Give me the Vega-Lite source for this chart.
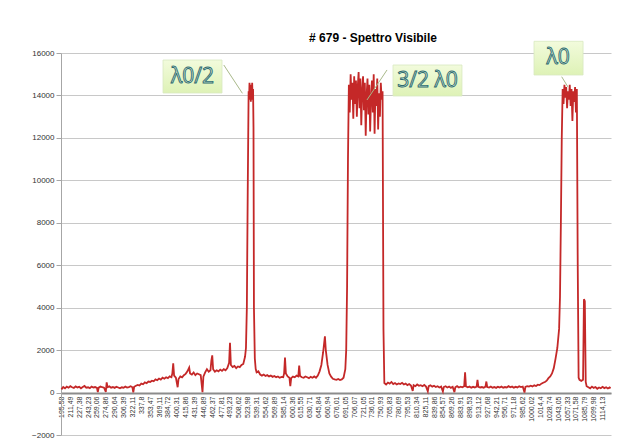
{
  "$schema": "https://vega.github.io/schema/vega-lite/v6.json",
  "width": 550,
  "height": 382,
  "autosize": {"type": "none"},
  "padding": {"left": 61, "top": 53, "right": 29, "bottom": 10},
  "background": "white",
  "config": {"view": {"stroke": null}},
  "title": {"text": "# 679 - Spettro Visibile", "fontSize": 12, "fontWeight": "bold", "font": "Liberation Sans", "color": "#000000", "anchor": "middle", "dx": 37, "dy": 4, "offset": 0},
  "datasets": {
    "spec": [
      {"i":0,"v":150},{"i":2,"v":260},{"i":4,"v":200},{"i":6,"v":280},{"i":8,"v":230},{"i":10,"v":300},{"i":12,"v":250},{"i":14,"v":220},{"i":16,"v":290},{"i":18,"v":240},
      {"i":20,"v":270},{"i":22,"v":200},{"i":24,"v":260},{"i":26,"v":310},{"i":28,"v":230},{"i":30,"v":250},{"i":32,"v":210},{"i":34,"v":280},{"i":36,"v":240},{"i":38,"v":260},
      {"i":40,"v":220},{"i":41,"v":20},{"i":42,"v":230},{"i":44,"v":280},{"i":46,"v":250},{"i":48,"v":230},{"i":50,"v":30},{"i":51,"v":480},{"i":52,"v":250},{"i":54,"v":290},
      {"i":56,"v":230},{"i":58,"v":260},{"i":60,"v":220},{"i":62,"v":270},{"i":64,"v":240},{"i":66,"v":200},{"i":68,"v":250},{"i":70,"v":230},{"i":72,"v":280},{"i":74,"v":240},
      {"i":76,"v":260},{"i":78,"v":300},{"i":80,"v":250},{"i":81,"v":10},{"i":82,"v":270},{"i":84,"v":320},
      {"i":86,"v":360},{"i":88,"v":330},{"i":90,"v":420},{"i":92,"v":390},{"i":94,"v":480},{"i":96,"v":440},{"i":98,"v":520},{"i":100,"v":500},{"i":102,"v":560},{"i":104,"v":530},
      {"i":106,"v":620},{"i":108,"v":580},{"i":110,"v":660},{"i":112,"v":610},{"i":114,"v":700},{"i":116,"v":650},{"i":118,"v":720},{"i":120,"v":680},{"i":122,"v":760},{"i":124,"v":720},
      {"i":125,"v":900},{"i":126,"v":1380},{"i":127,"v":800},{"i":129,"v":700},{"i":131,"v":250},{"i":132,"v":640},{"i":134,"v":760},{"i":136,"v":720},{"i":138,"v":820},{"i":140,"v":880},
      {"i":142,"v":1000},{"i":144,"v":1180},{"i":145,"v":900},{"i":147,"v":850},{"i":149,"v":950},{"i":151,"v":820},{"i":153,"v":900},{"i":155,"v":860},{"i":157,"v":820},{"i":159,"v":20},
      {"i":160,"v":750},{"i":162,"v":950},{"i":164,"v":1100},{"i":166,"v":980},{"i":168,"v":1050},{"i":169,"v":1500},{"i":170,"v":1750},{"i":171,"v":1100},{"i":173,"v":980},{"i":175,"v":1050},
      {"i":177,"v":1000},{"i":179,"v":1080},{"i":181,"v":1020},{"i":183,"v":1100},{"i":185,"v":1050},{"i":187,"v":1150},{"i":189,"v":1400},{"i":190,"v":2350},{"i":191,"v":1300},{"i":193,"v":1200},
      {"i":195,"v":1250},{"i":197,"v":1150},{"i":199,"v":1230},{"i":201,"v":1200},{"i":203,"v":1300},{"i":205,"v":1350},{"i":207,"v":1700},{"i":208,"v":2100},{"i":209,"v":4000},{"i":210,"v":9500},
      {"i":211,"v":14200},{"i":211.5,"v":13800},{"i":212,"v":14600},{"i":212.5,"v":13900},{"i":213,"v":14500},{"i":213.5,"v":13700},{"i":214,"v":14400},{"i":214.5,"v":13900},{"i":215,"v":14600},{"i":215.5,"v":13800},
      {"i":216,"v":14300},{"i":216.5,"v":12500},{"i":217,"v":4000},{"i":218,"v":1600},{"i":219,"v":1100},{"i":220,"v":950},{"i":222,"v":1000},{"i":224,"v":850},{"i":226,"v":800},{"i":228,"v":850},
      {"i":230,"v":780},{"i":232,"v":820},{"i":234,"v":760},{"i":236,"v":800},{"i":238,"v":740},{"i":240,"v":780},{"i":242,"v":720},{"i":244,"v":760},{"i":246,"v":700},{"i":248,"v":740},
      {"i":250,"v":720},{"i":251,"v":900},{"i":252,"v":1650},{"i":253,"v":900},{"i":255,"v":760},{"i":257,"v":700},{"i":258,"v":300},{"i":259,"v":680},{"i":261,"v":750},{"i":263,"v":720},
      {"i":265,"v":800},{"i":267,"v":760},{"i":268,"v":1270},{"i":269,"v":780},{"i":271,"v":720},{"i":273,"v":700},{"i":275,"v":760},{"i":277,"v":720},{"i":279,"v":680},{"i":281,"v":740},
      {"i":283,"v":700},{"i":285,"v":760},{"i":287,"v":700},{"i":289,"v":800},{"i":291,"v":1000},{"i":293,"v":1300},{"i":295,"v":1900},{"i":297,"v":2650},{"i":298,"v":2000},{"i":300,"v":1300},
      {"i":302,"v":900},{"i":304,"v":750},{"i":306,"v":650},{"i":308,"v":620},{"i":310,"v":600},{"i":312,"v":640},{"i":314,"v":590},{"i":316,"v":620},{"i":318,"v":700},{"i":320,"v":1100},
      {"i":321,"v":2000},{"i":322,"v":5000},{"i":323,"v":11000},
      {"i":324,"v":14500},{"i":325,"v":13200},{"i":326,"v":15000},{"i":327,"v":13800},{"i":328,"v":14600},{"i":329,"v":12900},{"i":330,"v":14900},{"i":331,"v":13600},{"i":332,"v":14700},{"i":333,"v":13000},
      {"i":334,"v":14400},{"i":335,"v":15100},{"i":336,"v":13400},{"i":337,"v":14800},{"i":338,"v":12600},{"i":339,"v":14200},{"i":340,"v":14900},{"i":341,"v":13300},{"i":342,"v":14600},{"i":343,"v":12100},
      {"i":344,"v":14000},{"i":345,"v":14800},{"i":346,"v":13100},{"i":347,"v":14500},{"i":348,"v":12300},{"i":349,"v":13900},{"i":350,"v":14700},{"i":351,"v":13200},{"i":352,"v":15000},{"i":353,"v":12200},
      {"i":354,"v":14300},{"i":355,"v":13500},{"i":356,"v":14800},{"i":357,"v":12400},{"i":358,"v":14100},{"i":359,"v":13000},{"i":360,"v":14600},{"i":361,"v":13800},{"i":362,"v":14200},{"i":363,"v":3000},
      {"i":364,"v":450},{"i":366,"v":380},{"i":368,"v":470},{"i":370,"v":420},{"i":372,"v":500},{"i":374,"v":400},{"i":376,"v":450},{"i":378,"v":380},{"i":380,"v":430},{"i":382,"v":400},
      {"i":384,"v":460},{"i":386,"v":380},{"i":388,"v":420},{"i":390,"v":350},{"i":392,"v":400},{"i":394,"v":330},{"i":396,"v":80},{"i":397,"v":350},{"i":399,"v":300},{"i":401,"v":380},
      {"i":403,"v":320},{"i":405,"v":350},{"i":407,"v":300},{"i":409,"v":360},{"i":411,"v":280},{"i":413,"v":60},{"i":414,"v":300},{"i":416,"v":340},{"i":418,"v":280},{"i":420,"v":320},
      {"i":422,"v":260},{"i":424,"v":300},{"i":426,"v":240},{"i":428,"v":280},{"i":430,"v":50},{"i":431,"v":260},{"i":433,"v":300},{"i":435,"v":240},{"i":437,"v":280},{"i":439,"v":220},
      {"i":441,"v":270},{"i":443,"v":20},{"i":444,"v":250},{"i":446,"v":300},{"i":448,"v":240},{"i":450,"v":280},{"i":452,"v":250},{"i":454,"v":300},{"i":455,"v":960},{"i":456,"v":290},
      {"i":458,"v":250},{"i":460,"v":280},{"i":462,"v":230},{"i":464,"v":270},{"i":466,"v":240},{"i":468,"v":280},{"i":469,"v":600},{"i":470,"v":270},{"i":472,"v":240},{"i":474,"v":260},
      {"i":476,"v":230},{"i":478,"v":280},{"i":479,"v":520},{"i":480,"v":260},{"i":482,"v":240},{"i":484,"v":280},{"i":486,"v":230},{"i":488,"v":260},{"i":490,"v":220},{"i":492,"v":270},
      {"i":494,"v":240},{"i":496,"v":280},{"i":498,"v":230},{"i":500,"v":260},{"i":502,"v":240},{"i":504,"v":300},{"i":506,"v":250},{"i":508,"v":280},{"i":510,"v":230},{"i":512,"v":270},
      {"i":514,"v":240},{"i":516,"v":300},{"i":518,"v":260},{"i":520,"v":280},{"i":522,"v":0},{"i":523,"v":270},{"i":525,"v":300},{"i":527,"v":280},{"i":529,"v":320},{"i":531,"v":290},
      {"i":533,"v":340},{"i":535,"v":310},{"i":537,"v":370},{"i":539,"v":350},{"i":541,"v":420},{"i":543,"v":460},{"i":545,"v":500},{"i":547,"v":560},{"i":549,"v":680},{"i":551,"v":760},
      {"i":553,"v":900},{"i":555,"v":1150},{"i":557,"v":1600},{"i":559,"v":2100},{"i":561,"v":3000},{"i":562,"v":4500},{"i":563,"v":8000},{"i":564,"v":12000},{"i":565,"v":14300},
      {"i":566,"v":13600},{"i":567,"v":14500},{"i":568,"v":13900},{"i":569,"v":14400},{"i":570,"v":13400},{"i":571,"v":14200},{"i":572,"v":13800},{"i":573,"v":14500},{"i":574,"v":13500},{"i":575,"v":14300},
      {"i":576,"v":12800},{"i":577,"v":14200},{"i":578,"v":13700},{"i":579,"v":14400},{"i":580,"v":13200},{"i":581,"v":14300},{"i":582,"v":6000},{"i":583,"v":700},{"i":584,"v":600},{"i":586,"v":550},
      {"i":588,"v":600},{"i":589,"v":4400},{"i":590,"v":4300},{"i":591,"v":500},{"i":592,"v":300},{"i":594,"v":250},{"i":596,"v":200},{"i":598,"v":280},{"i":600,"v":220},{"i":602,"v":260},
      {"i":604,"v":180},{"i":606,"v":240},{"i":608,"v":200},{"i":610,"v":270},{"i":612,"v":210},{"i":614,"v":250},{"i":616,"v":190},{"i":618,"v":240},{"i":619,"v":200}
    ],
    "notes": [
      {"label":"λ0/2","bx":114.5,"bx2":181,"by":15670,"by2":14115,"tx":147.7,"ty":14890,"lx":183,"ly":15435,"lx2":204,"ly2":14100},
      {"label":"3/2 λ0","bx":373.8,"bx2":451.5,"by":15435,"by2":13974,"tx":412.7,"ty":14704,"lx":367,"ly":15200,"lx2":344.4,"ly2":13785},
      {"label":"λ0","bx":532.7,"bx2":588,"by":16550,"by2":14963,"tx":560,"ty":15760,"lx":563.9,"ly":14883,"lx2":571,"ly2":14400}
    ]
  },
  "layer": [
    {
      "data": {"name": "spec"},
      "mark": {"type": "line", "color": "#c42828", "strokeWidth": 1.8, "clip": false},
      "encoding": {
        "x": {"field": "i", "type": "quantitative",
          "scale": {"domain": [-0.5, 619.5], "nice": false, "zero": false},
          "axis": {"title": null, "grid": false, "offset": -42, "tickCount": 200,
            "values": [0,10,20,30,40,50,60,70,80,90,100,110,120,130,140,150,160,170,180,190,200,210,220,230,240,250,260,270,280,290,300,310,320,330,340,350,360,370,380,390,400,410,420,430,440,450,460,470,480,490,500,510,520,530,540,550,560,570,580,590,600,610],
            "labelExpr": "['195,58','211,49','227,38','243,23','259,06','274,86','290,64','306,39','322,11','337,8','353,47','369,11','384,72','400,31','415,86','431,39','446,89','462,37','477,81','493,23','508,62','523,98','539,31','554,62','569,89','585,14','600,36','615,55','630,71','645,84','660,94','676,01','691,05','706,07','721,05','736,01','750,93','765,83','780,69','795,53','810,34','825,11','839,86','854,57','869,26','883,91','898,53','913,12','927,68','942,21','956,71','971,18','985,62','1000,02','1014,4','1028,74','1043,05','1057,33','1071,58','1085,79','1099,98','1114,13'][round(datum.value/10)]",
            "labelAngle": -90, "labelFontSize": 7, "labelFont": "Liberation Sans", "labelColor": "#333333",
            "labelPadding": 3, "ticks": false, "labelOverlap": false, "labelBound": false, "labelFlush": false,
            "domainColor": "#8c8c8c", "domainWidth": 2}
        },
        "y": {"field": "v", "type": "quantitative",
          "scale": {"domain": [-2000, 16000], "nice": false, "zero": false},
          "axis": {"title": null, "values": [-2000,0,2000,4000,6000,8000,10000,12000,14000,16000], "format": "d", "tickCount": 20,
            "grid": true, "gridColor": "#c8c8c8", "gridWidth": 1,
            "domainColor": "#a6a6a6", "tickColor": "#a6a6a6", "tickSize": 5, "labelPadding": 2,
            "labelFontSize": 8, "labelFont": "Liberation Sans", "labelColor": "#333333"}
        }
      }
    },
    {
      "data": {"name": "notes"},
      "mark": {"type": "rule", "color": "#a9b98a", "strokeWidth": 1, "clip": false},
      "encoding": {
        "x": {"field": "lx", "type": "quantitative"},
        "x2": {"field": "lx2"},
        "y": {"field": "ly", "type": "quantitative"},
        "y2": {"field": "ly2"}
      }
    },
    {
      "data": {"name": "notes"},
      "mark": {"type": "rect", "clip": false, "stroke": "#d8e8c0", "strokeWidth": 0.8,
        "fill": {"gradient": "linear", "x1": 0, "y1": 0, "x2": 0, "y2": 1, "stops": [{"offset": 0, "color": "#f2fbdc"}, {"offset": 1, "color": "#def2b6"}]}},
      "encoding": {
        "x": {"field": "bx", "type": "quantitative"},
        "x2": {"field": "bx2"},
        "y": {"field": "by", "type": "quantitative"},
        "y2": {"field": "by2"}
      }
    },
    {
      "data": {"name": "notes"},
      "mark": {"type": "text", "clip": false, "font": "Open Sans", "fontSize": 21, "fill": "#d4ecd8", "stroke": "#2e6b70", "strokeWidth": 0.9, "align": "center", "baseline": "middle"},
      "encoding": {
        "x": {"field": "tx", "type": "quantitative"},
        "y": {"field": "ty", "type": "quantitative"},
        "text": {"field": "label"}
      }
    }
  ]
}
